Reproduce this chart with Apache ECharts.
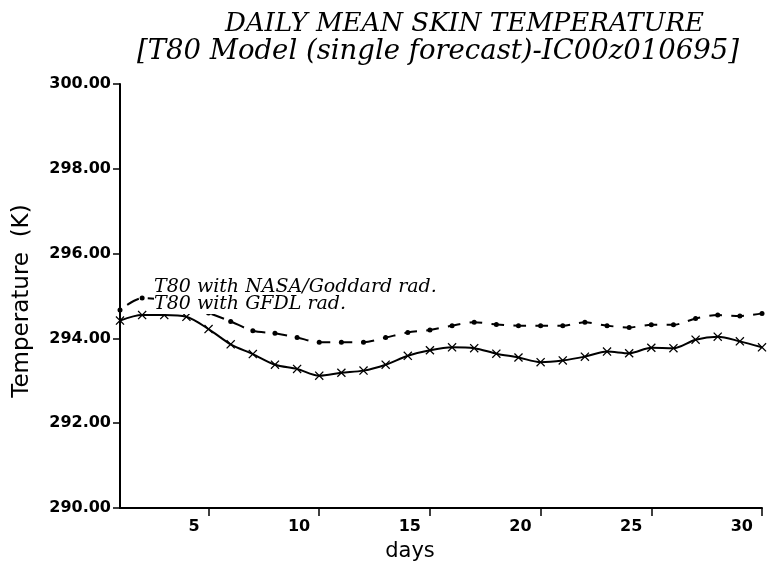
<!DOCTYPE html>
<html>
<head>
<meta charset="utf-8">
<title>Daily Mean Skin Temperature</title>
<script src="https://cdn.jsdelivr.net/npm/echarts@6/dist/echarts.min.js"></script>
<style>
    html, body { margin: 0; padding: 0; background: #fff; }
    #chart { width: 767px; height: 567px; }
</style>
</head>
<body>
<div id="chart"></div>
<script>
const days = [1, 2, 3, 4, 5, 6, 7, 8, 9, 10, 11, 12, 13, 14, 15, 16, 17, 18, 19, 20, 21, 22, 23, 24, 25, 26, 27, 28, 29, 30];
const nasaRad = [294.67, 294.95, 294.9, 294.75, 294.6, 294.4, 294.18, 294.12, 294.02, 293.91,
    293.91, 293.91, 294.02, 294.14, 294.2, 294.3, 294.38, 294.33, 294.3, 294.3,
    294.3, 294.38, 294.3, 294.26, 294.32, 294.32, 294.47, 294.55, 294.53, 294.59];
const gfdlRad = [294.42, 294.55, 294.55, 294.51, 294.22, 293.86, 293.63, 293.38, 293.28, 293.12,
    293.19, 293.24, 293.38, 293.59, 293.72, 293.79, 293.77, 293.64, 293.55, 293.44,
    293.48, 293.57, 293.69, 293.65, 293.78, 293.77, 293.97, 294.04, 293.93, 293.79];
const xTicks = [5, 10, 15, 20, 25, 30];
const seriesNames = ['T80 with NASA/Goddard rad.', 'T80 with GFDL rad.'];

const crossSymbol = 'path://M0,1L1,0L5,4L9,0L10,1L6,5L10,9L9,10L5,6L1,10L0,9L4,5Z';
const serifFont = '"DejaVu Serif", "Liberation Serif", serif';
const sansFont = '"DejaVu Sans", "Noto Sans", sans-serif';

const chart = echarts.init(document.getElementById('chart'));

chart.setOption({
    backgroundColor: '#fff',
    animation: false,
    title: [
        {
            text: 'DAILY MEAN SKIN TEMPERATURE',
            left: 220, top: 6,
            textStyle: { fontFamily: serifFont, fontStyle: 'italic', fontWeight: 'normal', fontSize: 26, color: '#000' }
        },
        {
            text: '[T80 Model (single forecast)-IC00z010695]',
            left: 132, top: 33,
            textStyle: { fontFamily: serifFont, fontStyle: 'italic', fontWeight: 'normal', fontSize: 27.5, color: '#000' }
        }
    ],
    grid: { left: 120, right: 5, top: 84, bottom: 56 },
    xAxis: {
        type: 'value',
        min: 1, max: 30,
        name: 'days',
        nameLocation: 'middle',
        nameGap: 33,
        nameTextStyle: { fontFamily: sansFont, fontSize: 21, color: '#000', padding: [0, 62, 0, 0] },
        axisLine: { lineStyle: { color: '#000', width: 2 } },
        axisTick: { customValues: xTicks, length: 8, lineStyle: { color: '#000', width: 1.5 } },
        axisLabel: {
            customValues: xTicks,
            align: 'right',
            padding: [0, 9, 0, 0],
            margin: 11,
            fontFamily: sansFont, fontSize: 16, fontWeight: 'bold', color: '#000'
        },
        splitLine: { show: false }
    },
    yAxis: {
        type: 'value',
        min: 290, max: 300, interval: 2,
        name: 'Temperature  (K)',
        nameLocation: 'middle',
        nameGap: 86,
        nameTextStyle: { fontFamily: sansFont, fontSize: 23, color: '#000', padding: [0, 10, 0, 0] },
        axisLine: { show: true, lineStyle: { color: '#000', width: 2 } },
        axisTick: { show: true, length: 7, lineStyle: { color: '#000', width: 1.5 } },
        axisLabel: {
            margin: 9,
            formatter: v => v.toFixed(2),
            fontFamily: sansFont, fontSize: 16, fontWeight: 'bold', color: '#000'
        },
        splitLine: { show: false }
    },
    series: [
        {
            name: seriesNames[0],
            type: 'line',
            data: days.map((d, i) => [d, nasaRad[i]]),
            smooth: 0.3,
            symbol: 'circle',
            symbolSize: 5,
            itemStyle: { color: '#000' },
            lineStyle: { color: '#000', width: 2, type: [13, 9], dashOffset: 13 },
            z: 2
        },
        {
            name: seriesNames[1],
            type: 'line',
            data: days.map((d, i) => [d, gfdlRad[i]]),
            smooth: 0.3,
            symbol: crossSymbol,
            symbolSize: 9,
            itemStyle: { color: '#000' },
            lineStyle: { color: '#000', width: 2 },
            z: 2
        }
    ],
    graphic: [
        {
            type: 'text', left: 154, top: 278, z: 10,
            style: {
                text: seriesNames[0], fill: '#000',
                font: 'italic 19px ' + serifFont,
                backgroundColor: '#fff'
            }
        },
        {
            type: 'text', left: 154, top: 295, z: 10,
            style: {
                text: seriesNames[1], fill: '#000',
                font: 'italic 19px ' + serifFont,
                backgroundColor: '#fff'
            }
        }
    ]
});
</script>
</body>
</html>
